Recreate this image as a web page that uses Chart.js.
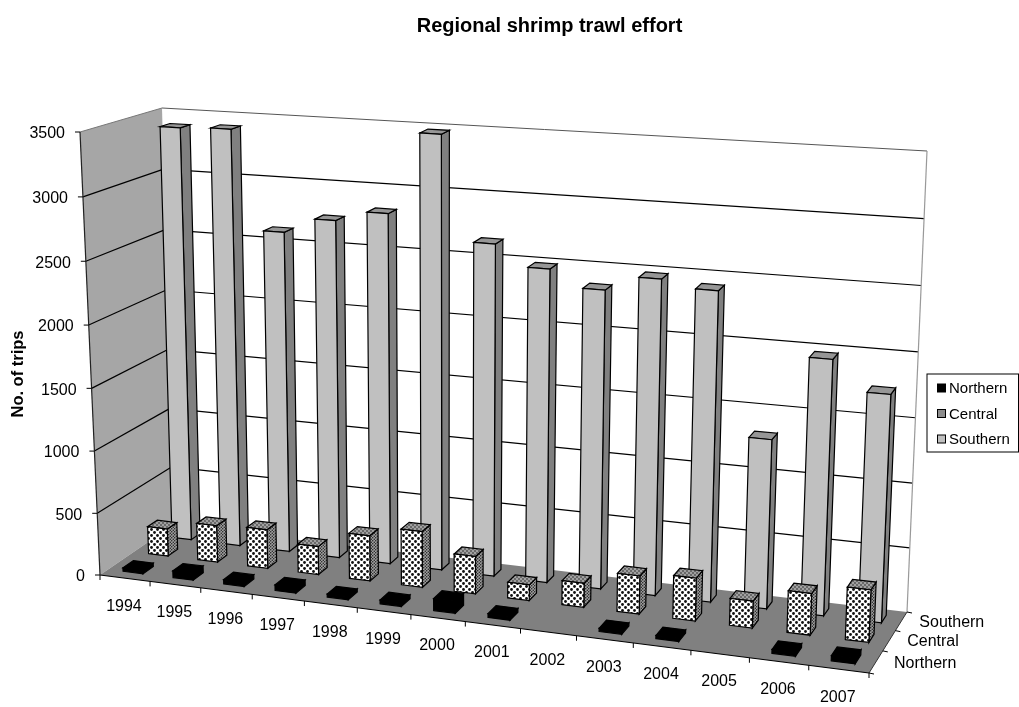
<!DOCTYPE html>
<html>
<head>
<meta charset="utf-8">
<title>Regional shrimp trawl effort</title>
<script src="https://cdn.jsdelivr.net/npm/chart.js@4/dist/chart.umd.js"></script>
<style>
    html, body { margin: 0; padding: 0; background: #fff; }
    canvas { display: block; }
</style>
</head>
<body>
<canvas id="chart-esfuerzo" width="1019" height="707"></canvas>
<script>
// Data
const years = ['1994', '1995', '1996', '1997', '1998', '1999', '2000', '2001', '2002', '2003', '2004', '2005', '2006', '2007'];
const regions = ['Northern', 'Central', 'Southern'];
const northern = [28, 55, 35, 45, 25, 30, 95, 30, 0, 25, 25, 0, 30, 40];
const central = [224, 300, 316, 228, 366, 450, 300, 125, 190, 300, 335, 210, 322, 403];
const southern = [3399, 3413, 2617, 2742, 2828, 3477, 2652, 2490, 2360, 2480, 2425, 1321, 1976, 1751];
const yMax = 3500;
const yStep = 500;
const yTitle = 'No. of trips';

const FONT = '"Liberation Sans", Arial, sans-serif';

// Corners of the plot box on the page (front/back, left/right)
const box = {
    floor: { fl: [100, 575], fr: [869, 673], br: [907, 612], bl: [173, 525] },
    top: { fl: [80, 132], fr: [888, 197], br: [927, 151], bl: [162, 108] }
};
const barShare = 0.4; // width of a bar inside its cell

function lerp(a, b, t) {
    return [a[0] + (b[0] - a[0]) * t, a[1] + (b[1] - a[1]) * t];
}

// Perspective foreshortening along one axis
function warp(t, s) {
    return t / (t + s * (1 - t));
}

// u: along the years, v: towards the back, w: up
function project(u, v, w) {
    const fu = warp(u, 1.105);
    const fv = warp(v, 0.88);
    const fw = warp(w, 1.03);
    const low = lerp(lerp(box.floor.fl, box.floor.fr, fu), lerp(box.floor.bl, box.floor.br, fu), fv);
    const high = lerp(lerp(box.top.fl, box.top.fr, fu), lerp(box.top.bl, box.top.br, fu), fv);
    return lerp(low, high, fw);
}

function polygon(ctx, pts, fill, stroke, lineWidth) {
    ctx.beginPath();
    pts.forEach((p, i) => (i ? ctx.lineTo(p[0], p[1]) : ctx.moveTo(p[0], p[1])));
    ctx.closePath();
    if (fill) {
        ctx.fillStyle = fill;
        ctx.fill();
    }
    if (stroke) {
        ctx.strokeStyle = stroke;
        ctx.lineWidth = lineWidth || 1;
        ctx.stroke();
    }
}

function line(ctx, a, b, color, lineWidth) {
    ctx.beginPath();
    ctx.moveTo(a[0], a[1]);
    ctx.lineTo(b[0], b[1]);
    ctx.strokeStyle = color;
    ctx.lineWidth = lineWidth || 1;
    ctx.stroke();
}

// Dotted fill used by the Central bars
function dotPattern(ctx, background, dot, tile, radius) {
    const c = document.createElement('canvas');
    c.width = tile;
    c.height = tile;
    const g = c.getContext('2d');
    g.fillStyle = background;
    g.fillRect(0, 0, tile, tile);
    g.fillStyle = dot;
    [[tile * 0.25, tile * 0.25], [tile * 0.75, tile * 0.75]].forEach(p => {
        g.beginPath();
        g.arc(p[0], p[1], radius, 0, Math.PI * 2);
        g.fill();
    });
    return ctx.createPattern(c, 'repeat');
}

function faceStyles(ctx) {
    return {
        Northern: { front: '#000', side: '#000', top: '#000' },
        Central: {
            front: dotPattern(ctx, '#fff', '#111', 6, 1.4),
            side: dotPattern(ctx, '#a0a0a0', '#111', 3, 0.7),
            top: dotPattern(ctx, '#a0a0a0', '#222', 4, 0.8)
        },
        Southern: { front: '#c0c0c0', side: '#808080', top: '#969696' }
    };
}

// Normalised positions taken from the chart scales
function norm(chart) {
    const { x, y, z } = chart.scales;
    return {
        u: i => (x.getPixelForValue(i) - x.left) / x.width,
        v: i => (z.getPixelForValue(i) - z.left) / z.width,
        w: px => (y.bottom - px) / y.height,
        cellU: 1 / years.length,
        cellV: 1 / regions.length
    };
}

// Walls, floor, gridlines and axes
function drawFrame(chart) {
    const ctx = chart.ctx;
    const n = norm(chart);
    const yScale = chart.scales.y;
    const f = box.floor;
    const t = box.top;

    polygon(ctx, [f.bl, t.bl, t.br, f.br], '#fff');
    polygon(ctx, [f.fl, t.fl, t.bl, f.bl], '#a6a6a6');

    yScale.ticks.forEach(tick => {
        const w = n.w(yScale.getPixelForValue(tick.value));
        if (tick.value > 0 && tick.value < yMax) {
            line(ctx, project(0, 0, w), project(0, 1, w), '#000', 1.2);
            line(ctx, project(0, 1, w), project(1, 1, w), '#000', 1.2);
        }
    });

    line(ctx, t.fl, t.bl, '#777');
    line(ctx, t.bl, t.br, '#555');
    line(ctx, t.br, f.br, '#999', 1.2);

    polygon(ctx, [f.fl, f.fr, f.br, f.bl], '#808080');
    line(ctx, f.fr, f.br, '#333');
    line(ctx, f.fl, f.fr, '#000', 1.2);
    line(ctx, f.fl, t.fl, '#222', 1.2);

    // y axis ticks and labels
    ctx.fillStyle = '#000';
    ctx.font = '16px ' + FONT;
    ctx.textAlign = 'right';
    ctx.textBaseline = 'middle';
    yScale.ticks.forEach(tick => {
        const p = project(0, 0, n.w(yScale.getPixelForValue(tick.value)));
        line(ctx, [p[0] - 5, p[1]], p, '#000');
        ctx.fillStyle = '#000';
        ctx.fillText(tick.label, p[0] - 15, p[1] + 2);
    });

    // year ticks and labels
    ctx.textAlign = 'center';
    years.forEach((year, i) => {
        const c = project(n.u(i), 0, 0);
        ctx.fillStyle = '#000';
        ctx.fillText(year, c[0] - 1, c[1] + 28);
    });
    for (let i = 0; i <= years.length; i++) {
        const p = project(i * n.cellU, 0, 0);
        line(ctx, p, [p[0], p[1] + 5], '#000');
    }

    // region ticks and labels
    ctx.textAlign = 'left';
    regions.forEach((region, k) => {
        const c = project(1, n.v(k), 0);
        ctx.fillStyle = '#000';
        ctx.fillText(region, c[0] + 18, c[1] + 1.5);
    });
    for (let k = 0; k <= regions.length; k++) {
        const p = project(1, k * n.cellV, 0);
        line(ctx, p, [p[0] + 5, p[1] + 1], '#000');
    }

    // y axis title
    ctx.save();
    ctx.translate(18, 374);
    ctx.rotate(-Math.PI / 2);
    ctx.font = 'bold 16.5px ' + FONT;
    ctx.textAlign = 'center';
    ctx.fillStyle = '#000';
    ctx.fillText(yTitle, 0, 0);
    ctx.restore();
}

// One box per value, back row first, left to right
function drawBars(chart) {
    const ctx = chart.ctx;
    const n = norm(chart);
    const styles = faceStyles(ctx);
    const halfU = n.cellU * barShare / 2;
    const halfV = n.cellV * barShare / 2;

    for (let k = regions.length - 1; k >= 0; k--) {
        const meta = chart.getDatasetMeta(k);
        const faces = styles[regions[k]];
        const v0 = n.v(k) - halfV;
        const v1 = n.v(k) + halfV;
        meta.data.forEach((bar, i) => {
            if (!chart.data.datasets[k].data[i]) return;
            const u0 = n.u(i) - halfU;
            const u1 = n.u(i) + halfU;
            const w0 = n.w(bar.base);
            const w1 = n.w(bar.y);
            polygon(ctx, [project(u1, v0, w0), project(u1, v0, w1), project(u1, v1, w1), project(u1, v1, w0)], faces.side, '#000', 1.2);
            polygon(ctx, [project(u0, v0, w1), project(u1, v0, w1), project(u1, v1, w1), project(u0, v1, w1)], faces.top, '#000', 1.2);
            polygon(ctx, [project(u0, v0, w0), project(u1, v0, w0), project(u1, v0, w1), project(u0, v0, w1)], faces.front, '#000', 1.2);
        });
    }
}

// Legend box on the right edge
function drawLegend(chart) {
    const ctx = chart.ctx;
    const swatches = ['#000', '#8c8c8c', '#c0c0c0'];
    ctx.fillStyle = '#fff';
    ctx.fillRect(927, 374, 91.5, 78);
    ctx.strokeStyle = '#000';
    ctx.lineWidth = 1;
    ctx.strokeRect(927, 374, 91.5, 78);
    ctx.font = '15px ' + FONT;
    ctx.textAlign = 'left';
    ctx.textBaseline = 'middle';
    chart.data.datasets.forEach((ds, k) => {
        const y = 388 + k * 25.5;
        ctx.fillStyle = swatches[k];
        ctx.fillRect(937.5, y - 4, 8, 8);
        ctx.strokeStyle = '#000';
        ctx.strokeRect(937.5, y - 4, 8, 8);
        ctx.fillStyle = '#000';
        ctx.fillText(ds.label, 949, y + 1);
    });
}

const box3dPlugin = {
    id: 'box3d',
    beforeDraw(chart) {
        // Title sits centred over the plot box, not the whole canvas
        chart.titleBlock.left = 230;
    },
    beforeDatasetsDraw(chart) {
        drawFrame(chart);
    },
    afterDatasetsDraw(chart) {
        drawBars(chart);
        drawLegend(chart);
    }
};

new Chart(document.getElementById('chart-esfuerzo'), {
    type: 'bar',
    data: {
        labels: years,
        datasets: [
            { label: 'Northern', data: northern, backgroundColor: 'transparent' },
            { label: 'Central', data: central, backgroundColor: 'transparent' },
            { label: 'Southern', data: southern, backgroundColor: 'transparent' }
        ]
    },
    options: {
        responsive: false,
        animation: false,
        layout: { padding: { right: 150, bottom: 132 } },
        plugins: {
            legend: { display: false },
            tooltip: { enabled: false },
            title: {
                display: true,
                text: 'Regional shrimp trawl effort',
                color: '#000',
                font: { family: FONT, size: 20, weight: 'bold' },
                padding: { top: 14, bottom: 95 }
            }
        },
        scales: {
            x: { display: false, offset: true },
            z: { type: 'category', axis: 'x', labels: regions, display: false, offset: true },
            y: {
                min: 0,
                max: yMax,
                ticks: { display: false, stepSize: yStep, callback: v => String(v) },
                grid: { display: false },
                border: { display: false },
                afterFit(scale) {
                    scale.width = 100;
                }
            }
        }
    },
    plugins: [box3dPlugin]
});
</script>
</body>
</html>
